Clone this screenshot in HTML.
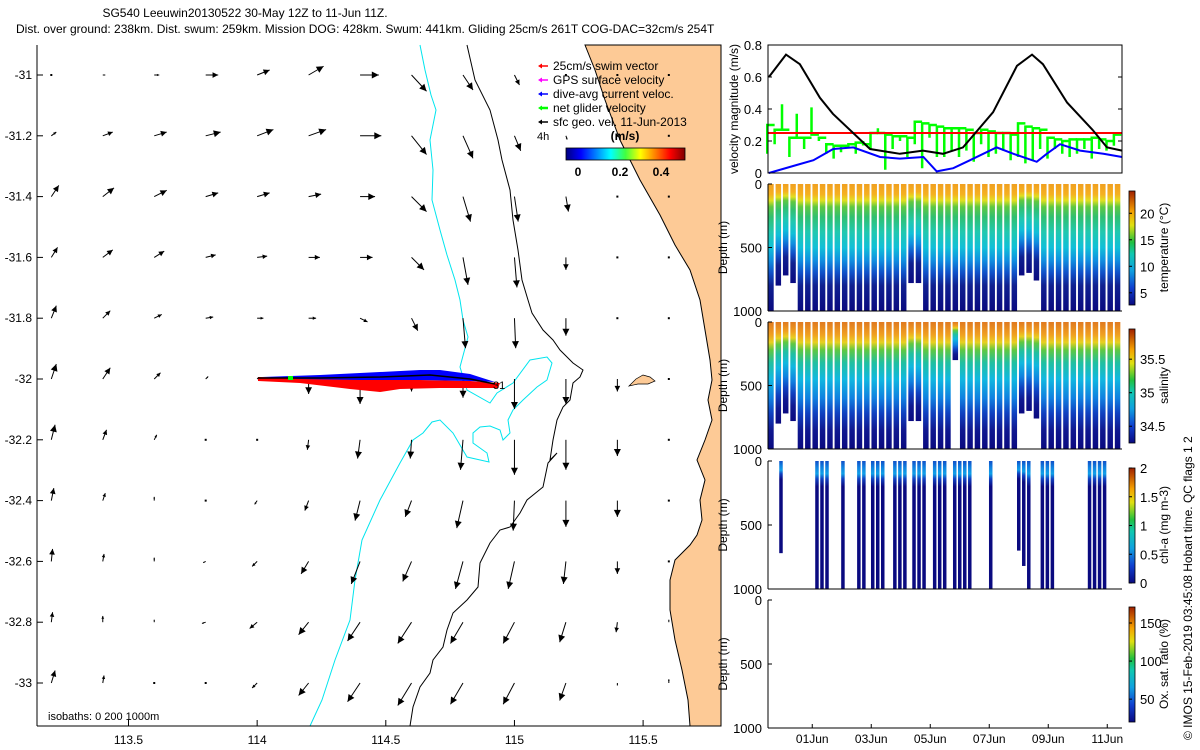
<!DOCTYPE html>
<html><head><meta charset="utf-8">
<style>
html,body{margin:0;padding:0;background:#fff;}
svg{display:block;font-family:"Liberation Sans",sans-serif;}
text{fill:#000;}
</style></head>
<body>
<svg id="fig" width="1200" height="750" viewBox="0 0 1200 750" xmlns="http://www.w3.org/2000/svg">
<defs>
<linearGradient id="jetH" x1="0" x2="1" y1="0" y2="0">
<stop offset="0" stop-color="#00007f"/><stop offset="0.125" stop-color="#0000ff"/><stop offset="0.375" stop-color="#00ffff"/><stop offset="0.5" stop-color="#40ff40"/><stop offset="0.625" stop-color="#ffff00"/><stop offset="0.875" stop-color="#ff0000"/><stop offset="1" stop-color="#7f0000"/>
</linearGradient>
<linearGradient id="cbV" x1="0" x2="0" y1="1" y2="0">
<stop offset="0" stop-color="#0a0a80"/><stop offset="0.15" stop-color="#1040d0"/><stop offset="0.3" stop-color="#10a0e0"/><stop offset="0.45" stop-color="#10c8b0"/><stop offset="0.55" stop-color="#20c040"/><stop offset="0.7" stop-color="#e0e010"/><stop offset="0.82" stop-color="#f5a000"/><stop offset="1" stop-color="#a02000"/>
</linearGradient>
<linearGradient id="tempG" x1="0" x2="0" y1="0" y2="1">
<stop offset="0" stop-color="#f0a020"/><stop offset="0.08" stop-color="#f5b020"/><stop offset="0.13" stop-color="#e0e020"/><stop offset="0.18" stop-color="#60c840"/><stop offset="0.26" stop-color="#30c070"/><stop offset="0.38" stop-color="#20c8b0"/><stop offset="0.5" stop-color="#10c0d8"/><stop offset="0.6" stop-color="#1090e0"/><stop offset="0.7" stop-color="#1050c8"/><stop offset="0.8" stop-color="#102090"/><stop offset="1" stop-color="#0a0a80"/>
</linearGradient>
<linearGradient id="salG" x1="0" x2="0" y1="0" y2="1">
<stop offset="0" stop-color="#e07a20"/><stop offset="0.1" stop-color="#f0a020"/><stop offset="0.16" stop-color="#e8d020"/><stop offset="0.22" stop-color="#60c840"/><stop offset="0.32" stop-color="#20c0a0"/><stop offset="0.45" stop-color="#10b8e0"/><stop offset="0.6" stop-color="#1080e0"/><stop offset="0.72" stop-color="#1040c0"/><stop offset="0.85" stop-color="#101890"/><stop offset="1" stop-color="#0a0a80"/>
</linearGradient>
<linearGradient id="chlG" x1="0" x2="0" y1="0" y2="1">
<stop offset="0" stop-color="#1050c8"/><stop offset="0.05" stop-color="#1080e0"/><stop offset="0.1" stop-color="#10a0e8"/><stop offset="0.14" stop-color="#1040c0"/><stop offset="0.2" stop-color="#0a0a80"/><stop offset="1" stop-color="#0a0a80"/>
</linearGradient>
</defs>

<text x="245" y="17" font-size="12" text-anchor="middle">SG540 Leeuwin20130522 30-May 12Z to 11-Jun 11Z.</text>
<text x="16" y="33" font-size="12">Dist. over ground: 238km. Dist. swum: 259km. Mission DOG: 428km. Swum: 441km. Gliding 25cm/s 261T COG-DAC=32cm/s 254T</text>

<g id="map">
<polygon fill="#fdca96" stroke="#000" stroke-width="1" points="585,45 595,70 605,100 620,140 640,180 660,215 675,245 690,270 700,300 705,330 710,360 712,380 708,400 712,420 705,440 697,460 705,480 700,500 702,520 697,535 690,545 675,560 670,580 670,610 675,640 682,670 688,700 690,726 721,726 721,45"/>
<polygon fill="#fdca96" stroke="#000" stroke-width="0.7" points="629,386 636,379 643,375 650,377 655,381 648,384 638,384"/>
<polyline fill="none" stroke="#00e5ee" stroke-width="1" points="420,45 425,70 431,95 436,110 430,140 433,170 432,200 440,230 447,255 455,280 460,300 463,320 468,337 460,367 467,390 490,403 497,393 513,383 530,360 547,357 552,363 547,380 537,387 523,400 513,410 508,420 510,433 503,440 500,430 490,426 480,427 473,433 473,443 487,453 489,462 467,457 453,433 440,420 432,422 423,433 413,440 400,463 380,500 362,540 355,580 350,620 335,660 322,700 310,726"/>
<polyline fill="none" stroke="#000" stroke-width="1" points="467,45 475,80 490,110 498,140 502,160 510,190 513,220 518,250 522,280 528,300 532,313 543,330 553,340 560,350 573,363 583,370 580,377 573,383 570,400 563,407 557,420 553,440 550,460 557,453 548,463 543,487 527,500 520,513 510,527 500,530 490,543 480,563 478,587 467,600 453,613 447,630 443,647 433,660 430,673 420,687 413,707 410,726"/>
<g id="arrows"></g>
<g>
<polygon fill="#ff0000" points="258,377 300,378 360,379 420,380 470,381 500,383 498,388 470,388 440,388 400,389 380,392 350,389 300,383 258,381"/>
<polygon fill="#0000ff" points="262,377 320,375 380,372 420,370 440,370 470,374 495,382 470,381 420,380 360,380 300,379"/>
<polyline fill="none" stroke="#000" stroke-width="1.5" points="258,378 320,378 380,377 430,375 470,379 495,384"/>
<rect x="288" y="376" width="5" height="4" fill="#00ff00"/>
<text x="493" y="389" font-size="11">31</text>
</g>
<line x1="37" y1="45" x2="37" y2="726" stroke="#000"/>
<line x1="37" y1="726" x2="691" y2="726" stroke="#000"/>
<g id="mapticks"></g>
<text x="48" y="720" font-size="11">isobaths: 0   200  1000m</text>
<g>
<g id="legend"></g>
<text x="537" y="140" font-size="11">4h</text>
<text x="625" y="140" font-size="12" font-weight="bold" text-anchor="middle">(m/s)</text>
<rect x="566" y="148" width="119" height="12" fill="url(#jetH)" stroke="#000" stroke-width="0.8"/>
<text x="578" y="176" font-size="12" font-weight="bold" text-anchor="middle">0</text>
<text x="620" y="176" font-size="12" font-weight="bold" text-anchor="middle">0.2</text>
<text x="661" y="176" font-size="12" font-weight="bold" text-anchor="middle">0.4</text>
</g>
</g>

<g id="right"></g>
<text transform="translate(1192,740) rotate(-90)" font-size="12">© IMOS 15-Feb-2019 03:45:08 Hobart time. QC flags 1  2</text>
</svg>
<script>
// ---------- map data ----------
const gridLon = [113.2,113.4,113.6,113.8,114.0,114.2,114.4,114.6,114.8,115.0,115.2,115.4,115.6];
const gridLat = [-31.0,-31.2,-31.4,-31.6,-31.8,-32.0,-32.2,-32.4,-32.6,-32.8,-33.0];
const uVel = [
[0,0.02,0.04,0.1,0.1,0.12,0.15,0.12,0.08,0.04,0,0,0],
[0.04,0.08,0.1,0.12,0.13,0.14,0.17,0.12,0.08,0.05,0.01,0,0],
[0.06,0.09,0.1,0.1,0.1,0.1,0.12,0.12,0.06,0.03,0.02,0,0],
[0.05,0.08,0.08,0.08,0.08,0.09,0.1,0.1,0.04,0.02,0,0,0],
[0.04,0.06,0.06,0.06,0.05,0.06,0.06,0.05,0.02,0.01,0,0,0],
[0.04,0.06,0.05,0.02,0.01,0,0,0,0,0,0,0,0],
[0.03,0.03,0.02,0,-0.01,-0.01,-0.02,-0.01,-0.02,0,0,0,0],
[0.02,0.02,0,0,-0.02,-0.03,-0.04,-0.05,-0.05,-0.01,0,0,0],
[0.01,0.01,0,-0.02,-0.04,-0.06,-0.07,-0.07,-0.06,-0.05,-0.02,0,0],
[0.01,0,0,-0.03,-0.06,-0.08,-0.1,-0.11,-0.1,-0.09,-0.05,-0.01,0],
[0.03,0.01,0,-0.01,-0.04,-0.08,-0.1,-0.11,-0.1,-0.09,-0.05,0,0]];
const vVel = [
[0,0,0,0,0.04,0.07,0,-0.13,-0.12,-0.08,0,0,0],
[0.03,0.03,0.03,0.03,0.05,0.05,0,-0.15,-0.18,-0.12,-0.03,0,0],
[0.09,0.07,0.05,0.03,0.03,0.02,0,-0.12,-0.2,-0.2,-0.12,0,0],
[0.08,0.06,0.05,0.02,0.01,0,0,-0.1,-0.22,-0.24,-0.1,0,0],
[0.1,0.06,0.03,0.01,0,0,-0.03,-0.1,-0.24,-0.24,-0.14,0,0],
[0.12,0.09,0.05,0.02,0.01,-0.12,-0.2,-0.1,-0.15,-0.24,-0.2,-0.1,0],
[0.12,0.08,0.04,0.01,0,-0.08,-0.15,-0.15,-0.24,-0.28,-0.24,-0.13,0],
[0.1,0.06,0.03,-0.01,-0.03,-0.08,-0.16,-0.13,-0.22,-0.24,-0.21,-0.13,0],
[0.1,0.06,0.03,-0.01,-0.04,-0.1,-0.18,-0.16,-0.22,-0.22,-0.18,-0.1,0],
[0.08,0.05,0.02,-0.01,-0.05,-0.1,-0.15,-0.17,-0.17,-0.17,-0.16,-0.08,0.02],
[0.1,0.06,0.01,0,-0.04,-0.1,-0.15,-0.18,-0.17,-0.17,-0.14,-0.02,0.03]];
const mapXTicks = [113.5,114,114.5,115,115.5];
const mapYTicks = [-31,-31.2,-31.4,-31.6,-31.8,-32,-32.2,-32.4,-32.6,-32.8,-33];
const legendLabels = ["25cm/s swim vector","GPS surface velocity","dive-avg current veloc.","net glider velocity","sfc geo. vel. 11-Jun-2013"];
const legendColors = ["#ff0000","#ff00ff","#0000ff","#00ff00","#000000"];

// ---------- time-series data ----------
const velTicks = [0,0.2,0.4,0.6,0.8];
const blackT = [0.03,0.61,1.08,1.76,2.2,3.46,4.47,5.25,5.93,6.61,7.63,8.44,8.95,9.32,10.14,11.0,11.49,12.0];
const blackV = [0.6,0.74,0.68,0.47,0.37,0.15,0.12,0.14,0.12,0.16,0.38,0.67,0.74,0.68,0.44,0.27,0.16,0.14];
const blueT = [0.03,0.97,1.54,2.21,2.89,3.8,4.47,5.27,5.72,6.28,6.85,7.75,8.32,9.11,9.45,9.9,10.58,11.37,12.0];
const blueV = [0.0,0.05,0.08,0.15,0.16,0.1,0.09,0.1,0.01,0.03,0.08,0.16,0.12,0.07,0.12,0.18,0.14,0.12,0.1];
const redV = 0.25;
const diveT = [0.1,0.35,0.6,0.85,1.1,1.35,1.6,1.85,2.1,2.35,2.6,2.85,3.1,3.35,3.6,3.85,4.1,4.35,4.6,4.85,5.1,5.35,5.6,5.85,6.1,6.35,6.6,6.85,7.1,7.35,7.6,7.85,8.1,8.35,8.6,8.85,9.1,9.35,9.6,9.85,10.1,10.35,10.6,10.85,11.1,11.35,11.6,11.85];
const greenTop = [0.30,0.27,0.27,0.22,0.22,0.22,0.24,0.22,0.18,0.17,0.17,0.18,0.19,0.18,0.25,0.25,0.24,0.23,0.23,0.22,0.32,0.31,0.30,0.29,0.28,0.28,0.28,0.27,0.25,0.27,0.26,0.25,0.25,0.24,0.31,0.29,0.28,0.27,0.22,0.21,0.20,0.21,0.21,0.21,0.22,0.21,0.20,0.24];
const greenLow = [0.12,0.18,0.43,0.10,0.37,0.15,0.41,0.20,0.12,0.09,0.13,0.16,0.12,0.20,0.15,0.28,0.02,0.15,0.20,0.10,0.18,0.03,0.22,0.10,0.10,0.14,0.10,0.14,0.07,0.18,0.10,0.12,0.14,0.08,0.10,0.06,0.08,0.15,0.09,0.15,0.12,0.10,0.12,0.15,0.09,0.15,0.14,0.17];
const tempDepth = [1000,800,720,780,1000,1000,1000,1000,1000,1000,1000,1000,1000,1000,1000,1000,1000,1000,1000,780,780,1000,1000,1000,1000,1000,1000,1000,1000,1000,1000,1000,1000,1000,720,700,760,1000,1000,1000,1000,1000,1000,1000,1000,1000,1000,1000];
const salDepth = [1000,800,720,780,1000,1000,1000,1000,1000,1000,1000,1000,1000,1000,1000,1000,1000,1000,1000,780,780,1000,1000,1000,1000,300,1000,1000,1000,1000,1000,1000,1000,1000,720,700,760,1000,1000,1000,1000,1000,1000,1000,1000,1000,1000,1000];
const chlT = [0.44,1.66,1.83,2.0,2.54,3.08,3.25,3.55,3.72,3.89,4.3,4.47,4.64,4.95,5.12,5.29,5.65,5.82,5.99,6.33,6.5,6.67,6.84,7.55,8.5,8.67,8.84,9.3,9.47,9.64,10.9,11.07,11.24,11.41];
const chlDepth = [720,1000,1000,1000,1000,1000,1000,1000,1000,1000,1000,1000,1000,1000,1000,1000,1000,1000,1000,1000,1000,1000,1000,1000,700,820,1000,1000,1000,1000,1000,1000,1000,1000];
const depthTicks = [0,500,1000];
const dateTicks = [1.5,3.5,5.5,7.5,9.5,11.5];
const dateLabels = ["01Jun","03Jun","05Jun","07Jun","09Jun","11Jun"];
const tempCbTicks = [5,10,15,20];
const salCbTicks = [34.5,35,35.5];
const chlCbTicks = [0,0.5,1,1.5,2];
const oxCbTicks = [50,100,150];

const NS = "http://www.w3.org/2000/svg";
function mk(tag, attrs, parent, txt){const e=document.createElementNS(NS,tag);for(const k in attrs)e.setAttribute(k,attrs[k]);if(txt!==undefined)e.textContent=txt;parent.appendChild(e);return e;}

const lonX = lon => 128.5 + (lon-113.5)*257.3;
const latY = lat => 75 + (-31-lat)*304;
const ARW = 125;

const ag = document.getElementById('arrows');
gridLat.forEach((lat,i)=>{gridLon.forEach((lon,j)=>{
  const x0=lonX(lon), y0=latY(lat);
  const dx=uVel[i][j]*ARW, dy=-vVel[i][j]*ARW;
  const L=Math.hypot(dx,dy);
  const g=mk('g',{},ag);
  
  
  if(L<1.5){mk('rect',{x:x0-1,y:y0-1,width:2,height:2,fill:'#000'},g);return;}
  const x1=x0+dx,y1=y0+dy,ux=dx/L,uy=dy/L,h=Math.min(7,L*0.45);
  mk('line',{x1:x0,y1:y0,x2:x1,y2:y1,stroke:'#000','stroke-width':1},g);
  mk('polygon',{points:`${x1},${y1} ${x1-ux*h-uy*h*0.5},${y1-uy*h+ux*h*0.5} ${x1-ux*h+uy*h*0.5},${y1-uy*h-ux*h*0.5}`,fill:'#000'},g);
});});

const mt=document.getElementById('mapticks');
mapXTicks.forEach(v=>{const x=lonX(v);
  mk('line',{x1:x,y1:726,x2:x,y2:720,stroke:'#000'},mt);
  const t=mk('text',{x:x,y:744,'font-size':12,'text-anchor':'middle'},mt,String(v));
  });
mapYTicks.forEach(v=>{const y=latY(v);
  mk('line',{x1:37,y1:y,x2:43,y2:y,stroke:'#000'},mt);
  const t=mk('text',{x:32,y:y+4,'font-size':12,'text-anchor':'end'},mt,String(v));
  });

const lg=document.getElementById('legend');
legendLabels.forEach((s,i)=>{const y=66+i*14;
  const g=mk('g',{},lg);
  
  mk('line',{x1:540,y1:y,x2:548,y2:y,stroke:legendColors[i],'stroke-width':i==3?2.5:1.5},g);
  mk('polygon',{points:`${538},${y} ${542},${y-2.5} ${542},${y+2.5}`,fill:legendColors[i]},g);
  mk('text',{x:553,y:y+4,'font-size':12},g,s);});

const R=document.getElementById('right');
const X0=768, PX_DAY=29.5;
const tx = d => X0 + d*PX_DAY;

const vTop=45,vBot=173;
const vy = v => vBot - v/0.8*(vBot-vTop);
const vp=mk('g',{},R);
diveT.forEach((t,i)=>{
  const x1=tx(t-0.125), x2=tx(t+0.125);
  const g=mk('g',{},vp);
  mk('polyline',{points:`${x1},${vy(greenLow[i])} ${x1},${vy(greenTop[i])} ${x2},${vy(greenTop[i])}`,fill:'none',stroke:'#00ff00','stroke-width':2.5},g);
});
const rl=mk('line',{x1:tx(0),x2:tx(12),y1:vy(redV),y2:vy(redV),stroke:'#ff0000','stroke-width':2},vp);

const bl=mk('polyline',{points:blueT.map((t,i)=>tx(t)+','+vy(blueV[i])).join(' '),fill:'none',stroke:'#0000ff','stroke-width':2},vp);

const kl=mk('polyline',{points:blackT.map((t,i)=>tx(t)+','+vy(blackV[i])).join(' '),fill:'none',stroke:'#000','stroke-width':2},vp);

mk('rect',{x:tx(0),y:vTop,width:tx(12)-tx(0),height:vBot-vTop,fill:'none',stroke:'#000'},vp);
velTicks.forEach(v=>{const y=vy(v);
  mk('line',{x1:tx(0),y1:y,x2:tx(0)+4,y2:y,stroke:'#000'},vp);
  mk('line',{x1:tx(12),y1:y,x2:tx(12)-4,y2:y,stroke:'#000'},vp);
  const t=mk('text',{x:762,y:y+5,'font-size':13,'text-anchor':'end'},vp,String(v));
  });
const vl=mk('text',{transform:`translate(738,${(vTop+vBot)/2}) rotate(-90)`,'font-size':12,'text-anchor':'middle'},vp,'velocity magnitude (m/s)');


function depthPanel(name, top, bot, times, depths, grad, colW, cbTicks, cbMin, cbMax, cbLabel, dates){
  const g=mk('g',{},R);
  const dy = d => top + d/1000*(bot-top);
  times.forEach((t,i)=>{
    const r=mk('rect',{x:tx(t)-colW/2,y:dy(0),width:colW,height:dy(depths[i])-dy(0),fill:grad},g);
    
  });
  mk('line',{x1:tx(0),y1:top,x2:tx(0),y2:bot,stroke:'#000'},g);
  mk('line',{x1:tx(0),y1:bot,x2:tx(12),y2:bot,stroke:'#000'},g);
  depthTicks.forEach(v=>{const y=dy(v);
    mk('line',{x1:tx(0),y1:y,x2:tx(0)+4,y2:y,stroke:'#000'},g);
    const t=mk('text',{x:762,y:y+5,'font-size':13,'text-anchor':'end'},g,String(v));
    });
  const yl=mk('text',{transform:`translate(727,${(top+bot)/2}) rotate(-90)`,'font-size':12,'text-anchor':'middle'},g,'Depth (m)');
  
  const cT=top+7,cB=bot-6;
  const cy = v => cB - (v-cbMin)/(cbMax-cbMin)*(cB-cT);
  const cb=mk('rect',{x:1129,y:cT,width:6,height:cB-cT,fill:'url(#cbV)',stroke:'#000','stroke-width':0.8},g);
  
  cbTicks.forEach(v=>{const y=cy(v);
    mk('line',{x1:1129,y1:y,x2:1132,y2:y,stroke:'#000'},g);
    const t=mk('text',{x:1140,y:y+5,'font-size':13},g,String(v));
    });
  const cl=mk('text',{transform:`translate(1168,${(top+bot)/2}) rotate(-90)`,'font-size':12,'text-anchor':'middle'},g,cbLabel);
  
  if(dates){dateTicks.forEach((d,i)=>{const x=tx(d);
    mk('line',{x1:x,y1:bot,x2:x,y2:bot-4,stroke:'#000'},g);
    const t=mk('text',{x:x,y:bot+15,'font-size':12,'text-anchor':'middle'},g,dateLabels[i]);
    });}
}
depthPanel('temperature-panel',184,311,diveT,tempDepth,'url(#tempG)',5.5,tempCbTicks,2.7,24.2,'temperature (°C)',false);
depthPanel('salinity-panel',322,449,diveT,salDepth,'url(#salG)',5.5,salCbTicks,34.25,35.95,'salinity',false);
depthPanel('chlorophyll-panel',461,589,chlT,chlDepth,'url(#chlG)',3.5,chlCbTicks,0,2,'chl-a (mg m-3)',false);
depthPanel('oxygen-panel',600,728,[],[],'none',4,oxCbTicks,20,171,'Ox. sat. ratio (%)',true);
</script>
</body></html>
